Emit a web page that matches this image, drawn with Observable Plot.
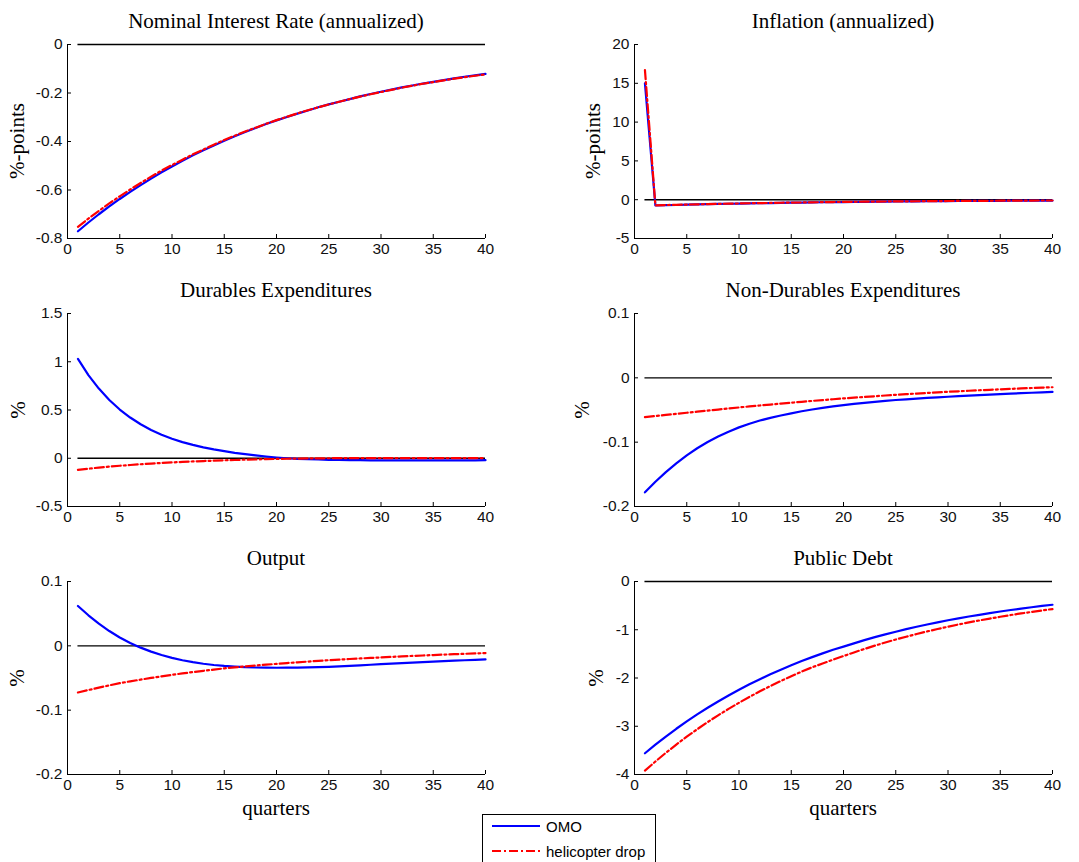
<!DOCTYPE html>
<html>
<head>
<meta charset="utf-8">
<script src="https://cdn.jsdelivr.net/npm/d3@7"></script>
<script src="https://cdn.jsdelivr.net/npm/@observablehq/plot@0.6"></script>
<style>
  body { margin: 0; background: #fff; }
  #chart { position: relative; width: 1079px; height: 862px; overflow: hidden; background: #fff; }
  .panel { position: absolute; }
  .lbl { position: absolute; font-family: "Liberation Serif", "Times New Roman", serif; font-size: 21px; color: #000;
         white-space: nowrap; transform: translate(-50%, -50%); line-height: 1.1; }
  .ylbl { transform: translate(-50%, -50%) rotate(-90deg); }
  #legend { position: absolute; left: 482px; top: 814px; width: 172px; height: 60px; border: 1px solid #000;
            background: #fff; font-family: "Liberation Sans", Arial, sans-serif; font-size: 15px; color: #000; z-index: 5; }
  #legend .item { position: absolute; left: 0; height: 20px; display: flex; align-items: center; }
  #legend svg { margin-left: 9px; margin-right: 6px; }
</style>
</head>
<body>
<div id="chart"></div>
<script>
// ---------------- data ----------------
const quarters = [1,2,3,4,5,6,7,8,9,10,11,12,13,14,15,16,17,18,19,20,
                  21,22,23,24,25,26,27,28,29,30,31,32,33,34,35,36,37,38,39,40];
const xTicks = [0,5,10,15,20,25,30,35,40];

const seriesNames = ["OMO", "helicopter drop"];

const titles = ["Nominal Interest Rate (annualized)", "Inflation (annualized)",
                "Durables Expenditures", "Non-Durables Expenditures",
                "Output", "Public Debt"];
const yLabels = ["%-points", "%-points", "%", "%", "%", "%"];
const xLabel = "quarters";

const nominalTicks = [-0.8,-0.6,-0.4,-0.2,0];
const inflationTicks = [-5,0,5,10,15,20];
const durablesTicks = [-0.5,0,0.5,1,1.5];
const nondurablesTicks = [-0.2,-0.1,0,0.1];
const outputTicks = [-0.2,-0.1,0,0.1];
const debtTicks = [-4,-3,-2,-1,0];

const nominalOMO = [-0.770,-0.734,-0.700,-0.668,-0.637,-0.608,-0.580,-0.553,-0.527,-0.503,
                    -0.480,-0.457,-0.436,-0.416,-0.397,-0.378,-0.361,-0.344,-0.328,-0.313,
                    -0.299,-0.285,-0.272,-0.259,-0.247,-0.236,-0.225,-0.214,-0.204,-0.195,
                    -0.186,-0.177,-0.169,-0.161,-0.154,-0.147,-0.140,-0.133,-0.127,-0.121];
const nominalHeli = [-0.752,-0.718,-0.686,-0.655,-0.626,-0.598,-0.571,-0.545,-0.520,-0.497,
                     -0.475,-0.453,-0.433,-0.413,-0.394,-0.376,-0.359,-0.343,-0.327,-0.312,
                     -0.298,-0.284,-0.271,-0.259,-0.247,-0.236,-0.225,-0.215,-0.205,-0.196,
                     -0.187,-0.178,-0.170,-0.162,-0.155,-0.148,-0.141,-0.135,-0.129,-0.123];

const inflationOMO = [15.0,-0.75,-0.71,-0.68,-0.64,-0.61,-0.58,-0.55,-0.52,-0.50,
                      -0.47,-0.45,-0.43,-0.40,-0.38,-0.37,-0.35,-0.33,-0.31,-0.30,
                      -0.28,-0.27,-0.26,-0.24,-0.23,-0.22,-0.21,-0.20,-0.19,-0.18,
                      -0.17,-0.16,-0.15,-0.15,-0.14,-0.13,-0.13,-0.12,-0.11,-0.11];
const inflationHeli = [16.7,-0.72,-0.69,-0.66,-0.63,-0.60,-0.57,-0.54,-0.51,-0.49,
                       -0.46,-0.44,-0.42,-0.39,-0.37,-0.36,-0.34,-0.32,-0.30,-0.29,
                       -0.27,-0.26,-0.25,-0.23,-0.22,-0.21,-0.20,-0.19,-0.18,-0.17,
                       -0.16,-0.15,-0.14,-0.14,-0.13,-0.12,-0.12,-0.11,-0.10,-0.10];

const durablesOMO = [1.030,0.862,0.722,0.604,0.505,0.422,0.352,0.293,0.244,0.202,
                     0.167,0.138,0.113,0.092,0.074,0.056,0.042,0.030,0.018,0.008,
                     0.000,-0.006,-0.010,-0.013,-0.016,-0.018,-0.019,-0.020,-0.021,-0.021,
                     -0.022,-0.022,-0.022,-0.022,-0.022,-0.021,-0.021,-0.021,-0.021,-0.020];
const durablesHeli = [-0.120,-0.108,-0.097,-0.087,-0.078,-0.070,-0.062,-0.055,-0.049,-0.043,
                      -0.038,-0.033,-0.029,-0.025,-0.021,-0.018,-0.015,-0.012,-0.009,-0.007,
                      -0.005,-0.003,-0.002,-0.001,0.000,0.001,0.001,0.002,0.002,0.002,
                      0.002,0.002,0.002,0.002,0.002,0.002,0.002,0.002,0.002,0.002];

const nondurablesOMO = [-0.1780,-0.1615,-0.1465,-0.1330,-0.1205,-0.1095,-0.0998,-0.0912,-0.0837,-0.0770,
                        -0.0713,-0.0664,-0.0622,-0.0585,-0.0552,-0.0520,-0.0492,-0.0467,-0.0445,-0.0425,
                        -0.0405,-0.0388,-0.0373,-0.0359,-0.0345,-0.0334,-0.0323,-0.0313,-0.0303,-0.0294,
                        -0.0285,-0.0277,-0.0269,-0.0261,-0.0253,-0.0246,-0.0239,-0.0232,-0.0225,-0.0218];
const nondurablesHeli = [-0.0610,-0.0593,-0.0576,-0.0559,-0.0543,-0.0526,-0.0509,-0.0493,-0.0476,-0.0460,
                         -0.0445,-0.0430,-0.0415,-0.0401,-0.0387,-0.0373,-0.0359,-0.0346,-0.0333,-0.0320,
                         -0.0308,-0.0297,-0.0286,-0.0275,-0.0264,-0.0254,-0.0244,-0.0235,-0.0226,-0.0217,
                         -0.0209,-0.0201,-0.0193,-0.0186,-0.0179,-0.0172,-0.0165,-0.0158,-0.0152,-0.0146];

const outputOMO = [0.0620,0.0475,0.0345,0.0230,0.0130,0.0045,-0.0028,-0.0090,-0.0143,-0.0187,
                   -0.0224,-0.0254,-0.0279,-0.0298,-0.0313,-0.0324,-0.0332,-0.0337,-0.0340,-0.0341,
                   -0.0340,-0.0338,-0.0335,-0.0331,-0.0326,-0.0319,-0.0311,-0.0303,-0.0294,-0.0285,
                   -0.0277,-0.0269,-0.0261,-0.0253,-0.0245,-0.0238,-0.0231,-0.0224,-0.0217,-0.0210];
const outputHeli = [-0.0725,-0.0687,-0.0650,-0.0614,-0.0580,-0.0552,-0.0525,-0.0499,-0.0474,-0.0450,
                    -0.0429,-0.0408,-0.0388,-0.0369,-0.0350,-0.0335,-0.0320,-0.0306,-0.0293,-0.0280,
                    -0.0268,-0.0256,-0.0245,-0.0234,-0.0223,-0.0214,-0.0205,-0.0196,-0.0188,-0.0180,
                    -0.0172,-0.0164,-0.0157,-0.0150,-0.0143,-0.0136,-0.0130,-0.0124,-0.0118,-0.0112];

const debtOMO = [-3.560,-3.382,-3.213,-3.052,-2.900,-2.755,-2.617,-2.486,-2.362,-2.244,
                 -2.131,-2.025,-1.924,-1.827,-1.736,-1.649,-1.567,-1.489,-1.414,-1.350,
                 -1.282,-1.216,-1.154,-1.096,-1.042,-0.988,-0.938,-0.891,-0.847,-0.804,
                 -0.764,-0.726,-0.690,-0.655,-0.622,-0.591,-0.562,-0.534,-0.507,-0.482];
const debtHeli = [-3.920,-3.731,-3.551,-3.380,-3.217,-3.062,-2.914,-2.774,-2.640,-2.513,
                  -2.392,-2.276,-2.167,-2.062,-1.963,-1.868,-1.778,-1.700,-1.620,-1.545,
                  -1.470,-1.398,-1.330,-1.264,-1.203,-1.144,-1.088,-1.035,-0.985,-0.937,
                  -0.891,-0.848,-0.807,-0.768,-0.731,-0.695,-0.662,-0.630,-0.600,-0.571];

const zeroRef = [{from: 1, to: 40, level: 0}];

// ---------------- layout ----------------
const colors = {omo: "#0000ff", heli: "#ff0000"};
const dash = "9,3,2,3";
const tickFont = 15.5;
const cols = [{left: 0, w: 540, mL: 67, mR: 55, cx: 276}, {left: 540, w: 539, mL: 94, mR: 27, cx: 843}];
const rowsL = [{top: 0, h: 280, mT: 44, mB: 42, ty: 22, cy: 141},
               {top: 280, h: 265, mT: 33, mB: 39, ty: 291, cy: 409.5},
               {top: 545, h: 317, mT: 36, mB: 88, ty: 559, cy: 677.5}];
const yLabelX = [18, 594, 19, 583, 18, 597];

const panels = [
  {omo: nominalOMO, heli: nominalHeli, ticks: nominalTicks},
  {omo: inflationOMO, heli: inflationHeli, ticks: inflationTicks},
  {omo: durablesOMO, heli: durablesHeli, ticks: durablesTicks},
  {omo: nondurablesOMO, heli: nondurablesHeli, ticks: nondurablesTicks},
  {omo: outputOMO, heli: outputHeli, ticks: outputTicks},
  {omo: debtOMO, heli: debtHeli, ticks: debtTicks}
];

const chart = document.getElementById("chart");

function addLabel(text, x, y, rotate) {
  const d = document.createElement("div");
  d.className = "lbl" + (rotate ? " ylbl" : "");
  d.style.left = x + "px";
  d.style.top = y + "px";
  d.textContent = text;
  chart.appendChild(d);
}

panels.forEach((p, i) => {
  const col = cols[i % 2], row = rowsL[Math.floor(i / 2)];
  const data = quarters.map((q, k) => ({q, omo: p.omo[k], heli: p.heli[k]}));
  const yd = [d3.min(p.ticks), d3.max(p.ticks)];
  const svg = Plot.plot({
    width: col.w, height: row.h,
    marginLeft: col.mL, marginRight: col.mR, marginTop: row.mT, marginBottom: row.mB,
    x: {domain: [0, 40], label: null},
    y: {domain: yd, label: null},
    style: {background: "transparent", overflow: "visible", color: "#000",
            fontFamily: "'Liberation Sans', Arial, sans-serif", fontSize: tickFont + "px"},
    marks: [
      Plot.ruleY(zeroRef, {y: "level", x1: "from", x2: "to", stroke: "#000", strokeWidth: 1.4}),
      Plot.lineY(data, {x: "q", y: "omo", stroke: colors.omo, strokeWidth: 2.2}),
      Plot.lineY(data, {x: "q", y: "heli", stroke: colors.heli, strokeWidth: 2.2, strokeDasharray: dash}),
      Plot.ruleX([0], {stroke: "#000", strokeWidth: 1}),
      Plot.ruleY([yd[0]], {stroke: "#000", strokeWidth: 1}),
      Plot.axisX(xTicks, {tickSize: 4, dy: -4, tickFormat: () => "", label: null}),
      Plot.axisX(xTicks, {tickSize: 0, tickPadding: 4, tickFormat: d => String(d), label: null,
                          fontSize: tickFont, fill: "#111"}),
      Plot.axisY(p.ticks, {tickSize: 4, dx: 4, tickFormat: () => "", label: null}),
      Plot.axisY(p.ticks, {tickSize: 0, tickPadding: 5, tickFormat: d => String(d), label: null,
                           fontSize: tickFont, fill: "#111"})
    ]
  });
  const wrap = document.createElement("div");
  wrap.className = "panel";
  wrap.style.left = col.left + "px";
  wrap.style.top = row.top + "px";
  wrap.appendChild(svg);
  chart.appendChild(wrap);

  addLabel(titles[i], col.cx, row.ty, false);
  addLabel(yLabels[i], yLabelX[i], row.cy, true);
  if (i >= 4) addLabel(xLabel, col.cx, 809, false);
});

// legend
const legend = document.createElement("div");
legend.id = "legend";
const items = [{name: seriesNames[0], color: colors.omo, dash: null, y: 1},
               {name: seriesNames[1], color: colors.heli, dash: dash, y: 26}];
items.forEach(it => {
  const row = document.createElement("div");
  row.className = "item";
  row.style.top = it.y + "px";
  row.innerHTML = `<svg width="48" height="6"><line x1="0" x2="48" y1="3" y2="3" stroke="${it.color}" stroke-width="2" ${it.dash ? `stroke-dasharray="${it.dash}"` : ""}/></svg><span>${it.name}</span>`;
  legend.appendChild(row);
});
chart.appendChild(legend);
</script>
</body>
</html>
